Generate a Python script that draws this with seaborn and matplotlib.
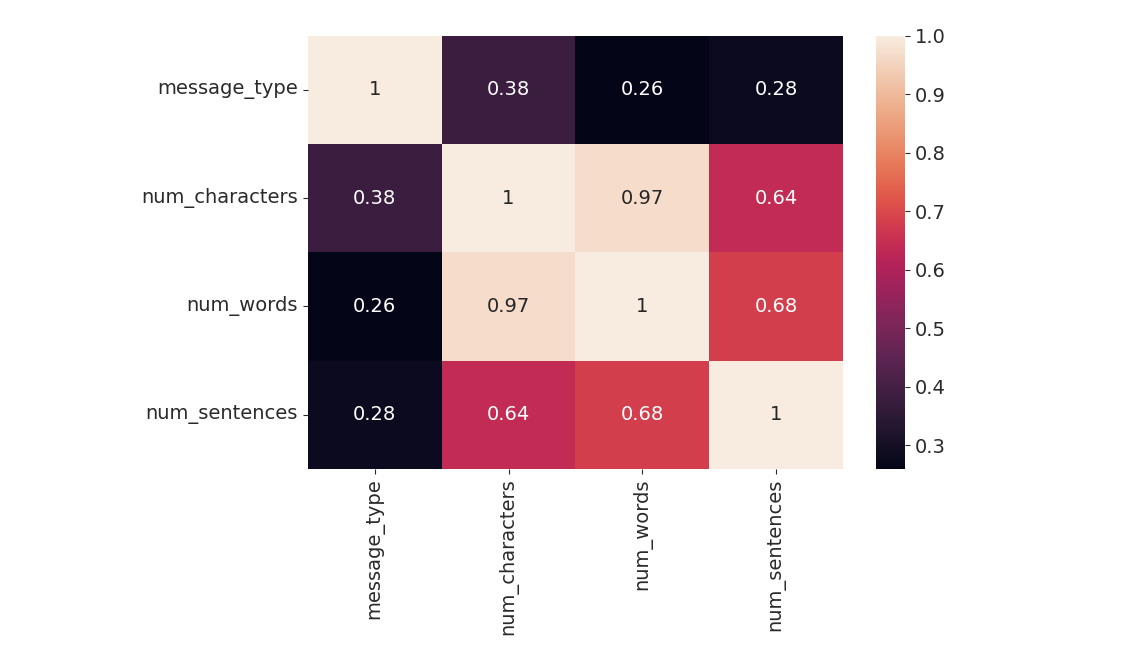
import numpy as np
import pandas as pd
import matplotlib
matplotlib.use('Agg')
import matplotlib.pyplot as plt
import seaborn as sns
from matplotlib.colors import ListedColormap

# Dados da matriz de correlação
colunas = ['message_type', 'num_characters', 'num_words', 'num_sentences']
corr_valores = [
    [1.00, 0.38, 0.26, 0.28],
    [0.38, 1.00, 0.97, 0.64],
    [0.26, 0.97, 1.00, 0.68],
    [0.28, 0.64, 0.68, 1.00],
]
corr = pd.DataFrame(corr_valores, index=colunas, columns=colunas)

plt.rcParams['font.family'] = ['DejaVu Sans']
plt.rcParams['text.color'] = '#2a2a2a'
plt.rcParams['xtick.color'] = '#2a2a2a'
plt.rcParams['ytick.color'] = '#2a2a2a'

# rocket levemente dessaturado, como na captura
cmap = ListedColormap(sns.color_palette('rocket', 256, desat=0.85))

fig = plt.figure(figsize=(11.44, 6.64), dpi=100)
ax = fig.add_axes([0.269, 0.294, 0.468, 0.652])
cax = fig.add_axes([0.766, 0.294, 0.025, 0.652])

sns.heatmap(corr, annot=True, ax=ax, cbar_ax=cax, cmap=cmap, annot_kws={'size': 14})
ax.tick_params(labelsize=14)
plt.setp(ax.get_xticklabels(), rotation=90)
plt.setp(ax.get_yticklabels(), rotation=0)
cax.tick_params(labelsize=14)
for sp in cax.spines.values():
    sp.set_visible(False)

plt.savefig('out.png', dpi=100)
plt.close()
